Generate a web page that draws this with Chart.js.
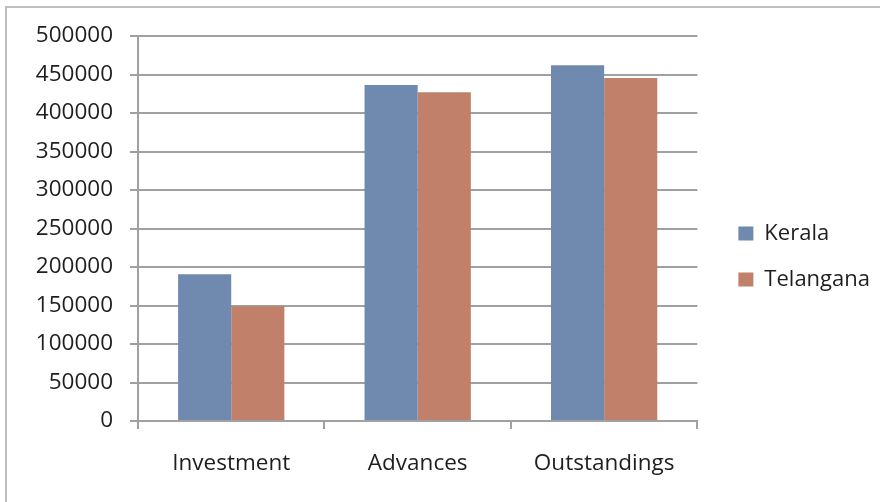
<!DOCTYPE html>
<html>
<head>
<meta charset="utf-8">
<script src="https://cdn.jsdelivr.net/npm/chart.js@4/dist/chart.umd.min.js"></script>
<style>
  html, body { margin: 0; padding: 0; background: #ffffff; }
  #wrap { position: relative; width: 880px; height: 502px; overflow: hidden; }
  #frame { position: absolute; left: 5px; top: 6px; width: 900px; height: 520px;
           border-left: 2px solid #BEBEBE; border-top: 2px solid #BEBEBE; }
  canvas { position: absolute; left: 0; top: 0; }
</style>
</head>
<body>
<div id="wrap">
  <div id="frame"></div>
  <canvas id="c" width="880" height="502"></canvas>
</div>
<script>
const categories = ['Investment', 'Advances', 'Outstandings'];
const keralaValues = [190500, 436500, 462000];
const telanganaValues = [149000, 427000, 445500];
const seriesNames = ['Kerala', 'Telangana'];
const yTicks = [0, 50000, 100000, 150000, 200000, 250000, 300000, 350000, 400000, 450000, 500000];

const FONT = { family: '"Open Sans", sans-serif', size: 22.5 };
const LFONT = { family: '"Open Sans", sans-serif', size: 22 };
const TXT = '#1E1E1E';
const GRID = '#A0A0A0';

new Chart(document.getElementById('c'), {
  type: 'bar',
  data: {
    labels: categories,
    datasets: [
      { label: seriesNames[0], data: keralaValues, backgroundColor: '#6F8AAE', borderWidth: 0 },
      { label: seriesNames[1], data: telanganaValues, backgroundColor: '#C1806A', borderWidth: 0 }
    ]
  },
  options: {
    responsive: false,
    animation: false,
    devicePixelRatio: 1,
    categoryPercentage: 0.57,
    barPercentage: 1.0,
    layout: { padding: { top: 36, bottom: 25, left: 0, right: 0 } },
    plugins: {
      tooltip: { enabled: false },
      legend: {
        position: 'right',
        maxWidth: 166,
        labels: {
          font: LFONT, color: TXT,
          boxWidth: 15, boxHeight: 14,
          padding: 24
        }
      }
    },
    scales: {
      x: {
        grid: { display: true, drawOnChartArea: false, drawTicks: true, tickLength: 8, offset: true, color: GRID, lineWidth: 2 },
        border: { display: true, color: GRID, width: 2 },
        ticks: { font: FONT, color: TXT, padding: 21, maxRotation: 0 },
        afterFit(s) { s.height = 56; }
      },
      y: {
        min: 0, max: 500000,
        afterBuildTicks(s) { s.ticks = yTicks.map(v => ({ value: v })); },
        grid: { color: GRID, lineWidth: 2, tickLength: 8, drawTicks: true },
        border: { display: true, color: GRID, width: 2 },
        ticks: { font: FONT, color: TXT, padding: 17, callback: v => String(v) },
        afterFit(s) { s.width = 138; }
      },
      yr: {
        type: 'linear', position: 'right', display: true,
        grid: { display: false }, border: { display: false },
        ticks: { display: false },
        afterFit(s) { s.width = 17; }
      }
    }
  }
});
</script>
</body>
</html>
